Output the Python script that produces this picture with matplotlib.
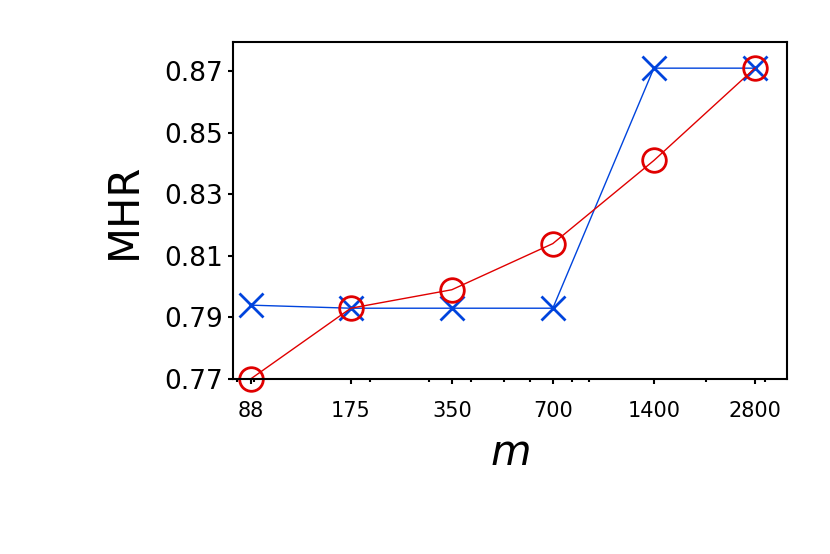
import matplotlib
matplotlib.use("Agg")
import matplotlib.pyplot as plt
from matplotlib.ticker import FixedLocator, FixedFormatter, NullFormatter

m_vals = [88, 175, 350, 700, 1400, 2800]
x_labels = ["88", "175", "350", "700", "1400", "2800"]
red_vals = [0.770, 0.793, 0.799, 0.814, 0.841, 0.871]
blue_vals = [0.794, 0.793, 0.793, 0.793, 0.871, 0.871]
y_ticks = [0.77, 0.79, 0.81, 0.83, 0.85, 0.87]

fig = plt.figure(figsize=(8.3, 5.54), dpi=100)
ax = fig.add_axes([233/830, 1-379/554, (787-233)/830, (379-42)/554])
ax.plot(m_vals, blue_vals, color="#0044dd", lw=1, marker="x", ms=17, mew=2, clip_on=False)
ax.plot(m_vals, red_vals, color="#e00000", lw=1, marker="o", ms=17, mew=2,
        mfc="none", clip_on=False)
ax.set_xscale("log")
ax.set_xlim(78, 3490)
ax.set_ylim(0.77, 0.8795)
ax.xaxis.set_major_locator(FixedLocator(m_vals))
ax.xaxis.set_major_formatter(FixedFormatter(x_labels))
ax.xaxis.set_minor_formatter(NullFormatter())
ax.set_yticks(y_ticks)
ax.set_yticklabels([f"{v:.2f}" for v in y_ticks])
for s in ax.spines.values():
    s.set_linewidth(1.5)
ax.tick_params(which="both", width=1.5)
ax.tick_params(axis="x", labelsize=15, pad=12)
ax.tick_params(axis="y", labelsize=19)
ax.set_xlabel("$m$", fontsize=30, labelpad=8)
ax.set_ylabel("MHR", fontsize=30, labelpad=14)
fig.savefig("out.png", dpi=100)
